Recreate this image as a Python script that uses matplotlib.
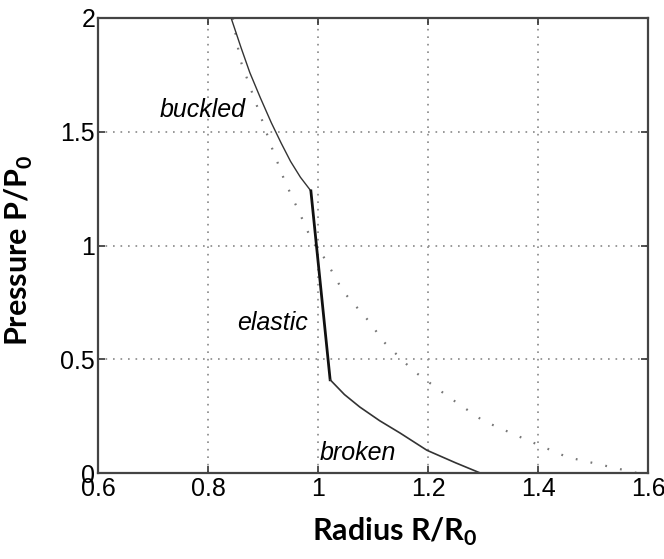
import matplotlib
matplotlib.use("Agg")
import matplotlib.pyplot as plt

plt.rcParams['font.family'] = ['Liberation Sans', 'DejaVu Sans']
plt.rcParams['mathtext.fontset'] = 'custom'
plt.rcParams['mathtext.rm'] = 'Lato'
plt.rcParams['mathtext.bf'] = 'Lato:bold'

# solid curve, three branches
buckled_r = [0.842, 0.860, 0.876, 0.895, 0.915, 0.933, 0.950, 0.968, 0.987]
buckled_p = [2.00, 1.87, 1.76, 1.65, 1.54, 1.45, 1.37, 1.30, 1.24]
elastic_r = [0.987, 1.022]
elastic_p = [1.24, 0.41]
broken_r = [1.022, 1.048, 1.076, 1.112, 1.149, 1.198, 1.250, 1.295]
broken_p = [0.41, 0.345, 0.29, 0.23, 0.176, 0.10, 0.045, 0.0]

# dotted reference curve
dotted_r = [0.845, 0.858, 0.891, 0.916, 0.940, 0.967, 0.989, 1.013, 1.045,
            1.095, 1.118, 1.173, 1.24, 1.30, 1.38, 1.453, 1.544, 1.58]
dotted_p = [2.0, 1.82, 1.60, 1.43, 1.28, 1.14, 1.02, 0.94, 0.80,
            0.66, 0.58, 0.45, 0.33, 0.23, 0.145, 0.07, 0.02, 0.0]

xticks = [0.6, 0.8, 1, 1.2, 1.4, 1.6]
xticklabels = ['0.6', '0.8', '1', '1.2', '1.4', '1.6']
yticks = [0, 0.5, 1, 1.5, 2]
yticklabels = ['0', '0.5', '1', '1.5', '2']

fig = plt.figure(figsize=(6.64, 5.59), dpi=100)
ax = fig.add_axes([0.1476, 0.1538, 0.8284, 0.8140])

ax.plot(dotted_r, dotted_p, color='#777777', lw=1.6, linestyle=(0, (0.8, 6)))
ax.plot(buckled_r, buckled_p, color='#333333', lw=1.0)
ax.plot(elastic_r, elastic_p, color='#111111', lw=2.0)
ax.plot(broken_r, broken_p, color='#333333', lw=1.2)

ax.text(0.791, 1.596, 'buckled', style='italic', fontsize=18, ha='center', va='center')
ax.text(0.917, 0.66, 'elastic', style='italic', fontsize=18, ha='center', va='center')
ax.text(1.073, 0.09, 'broken', style='italic', fontsize=18, ha='center', va='center')

ax.set_xlim(0.6, 1.6)
ax.set_ylim(0, 2)
ax.set_xticks(xticks)
ax.set_xticklabels(xticklabels)
ax.set_yticks(yticks)
ax.set_yticklabels(yticklabels)
ax.tick_params(direction='in', length=5, width=1.2, labelsize=18, pad=3,
               top=True, right=True, color='#333333')
ax.tick_params(axis='y', pad=2)
ax.grid(True, color='#888888', linestyle=(0, (1, 3.5)), lw=1.2)

for s in ax.spines.values():
    s.set_linewidth(1.6)
    s.set_color('#444444')

ax.set_xlabel(r'Radius R/R$_\mathbf{0}$', family='Lato', fontweight='bold', fontsize=22)
ax.xaxis.set_label_coords(0.54, -0.095)
ax.set_ylabel(r'Pressure P/P$_\mathbf{0}$', family='Lato', fontweight='bold', fontsize=22)
ax.yaxis.set_label_coords(-0.115, 0.49)

fig.savefig('out.png', dpi=100, facecolor='white')
